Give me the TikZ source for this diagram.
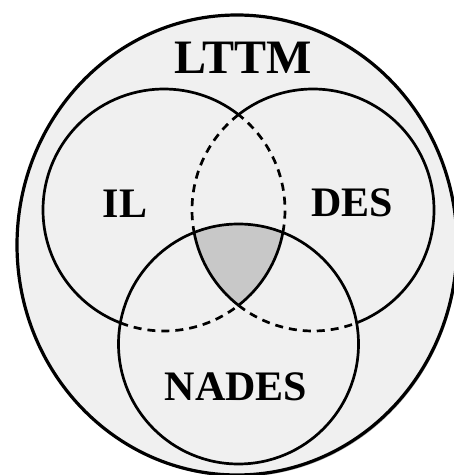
\documentclass[tikz,border=0pt]{standalone}
\usepackage{fontspec}
\setmainfont{Liberation Serif}
\usetikzlibrary{shadows}
\definecolor{bgfill}{RGB}{240,240,240}
\definecolor{core}{RGB}{200,200,200}
\tikzset{
  outerline/.style={draw=black, line width=3.2pt, fill=bgfill,
    drop shadow={shadow xshift=1.2pt, shadow yshift=-1.8pt, opacity=0.35, fill=black}},
  solidarc/.style={line width=2.7pt},
  dasharc/.style={line width=2.7pt, dash pattern=on 8pt off 6pt},
  bigtitle/.style={font=\fontsize{48}{48}\selectfont\bfseries, inner sep=0pt},
  settitle/.style={font=\fontsize{42}{42}\selectfont\bfseries, inner sep=0pt}
}
\begin{document}
\begin{tikzpicture}[x=1pt,y=1pt]
\useasboundingbox (0,0) rectangle (454,475);
% centres
\coordinate (O) at (237,230);
\coordinate (L) at (164,265);
\coordinate (R) at (313,265);
\coordinate (N) at (238.5,131);
\coordinate (B) at (238.5,169.65);
% outer LTTM ellipse
\draw[outerline] (O) ellipse [x radius=220pt, y radius=230pt];
% shaded triple intersection
\fill[core] (B) arc[start angle=-52, end angle=-10.71, radius=121pt]
  arc[start angle=68.29, end angle=111.71, radius=120pt]
  arc[start angle=190.71, end angle=232, radius=121pt] -- cycle;
% IL circle
\draw[solidarc] ([shift={(52:121pt)}]L) arc[start angle=52, end angle=248.87, radius=121pt];
\draw[dasharc] ([shift={(-111.13:121pt)}]L) arc[start angle=-111.13, end angle=-52, radius=121pt];
\draw[solidarc] ([shift={(-52:121pt)}]L) arc[start angle=-52, end angle=-10.71, radius=121pt];
\draw[dasharc] ([shift={(-10.71:121pt)}]L) arc[start angle=-10.71, end angle=52, radius=121pt];
% DES circle
\draw[solidarc] ([shift={(-68.87:121pt)}]R) arc[start angle=-68.87, end angle=128, radius=121pt];
\draw[dasharc] ([shift={(128:121pt)}]R) arc[start angle=128, end angle=190.71, radius=121pt];
\draw[solidarc] ([shift={(190.71:121pt)}]R) arc[start angle=190.71, end angle=232, radius=121pt];
\draw[dasharc] ([shift={(232:121pt)}]R) arc[start angle=232, end angle=291.13, radius=121pt];
% NADES circle
\draw[solidarc] (N) circle [radius=120pt];
% labels
\node[bigtitle] (lttm) at (243,417.5) {LTTM};
\node[settitle] (il) at (125,271) {IL};
\node[settitle] (des) at (352,272.5) {DES};
\node[settitle] (nades) at (236,88) {NADES};
\end{tikzpicture}
\end{document}
